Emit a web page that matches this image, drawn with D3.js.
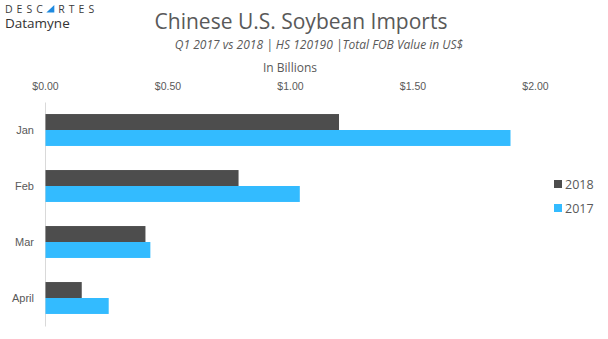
<!DOCTYPE html>
<html>
<head>
<meta charset="utf-8">
<script src="https://cdn.jsdelivr.net/npm/d3@7"></script>
<style>
  html, body { margin: 0; padding: 0; background: #fff; }
  svg { display: block; font-family: "Open Sans", "Noto Sans", sans-serif; }
</style>
</head>
<body>
<svg id="chart" width="608" height="339"></svg>
<script>
// Monthly FOB value of Chinese imports of U.S. soybeans, billions of US$
const months = ["Jan", "Feb", "Mar", "April"];
const seriesNames = ["2018", "2017"];
const values2018 = [1.20, 0.79, 0.41, 0.15];
const values2017 = [1.90, 1.04, 0.43, 0.26];
const tickValues = [0, 0.5, 1, 1.5, 2];
const seriesColors = ["#4d4d4d", "#33bbff"];

const svg = d3.select("#chart");
const textColor = "#595959";

// Brand mark: spaced capitals with a blue wedge standing in for the A
const logo = svg.append("g").attr("transform", "translate(5,12.5)");
const brandLeft = logo.append("text")
  .attr("x", 0).attr("y", 0)
  .attr("font-size", 10.5).attr("font-weight", 500)
  .attr("fill", "#3a3a3a").attr("letter-spacing", 4)
  .text("DESC");
const bw = brandLeft.node().getComputedTextLength();
logo.append("path")
  .attr("d", `M${bw - 0.5},0 L${bw + 7.5},-7.6 L${bw + 7.5},0 Z`)
  .attr("fill", "#1f8ae0");
logo.append("text")
  .attr("x", bw + 11.5).attr("y", 0)
  .attr("font-size", 10.5).attr("font-weight", 500)
  .attr("fill", "#3a3a3a").attr("letter-spacing", 4)
  .text("RTES");
logo.append("text")
  .attr("x", 0).attr("y", 15)
  .attr("font-size", 13.5)
  .attr("fill", "#333")
  .text("Datamyne");

// Titles
svg.append("text")
  .attr("x", 301).attr("y", 29)
  .attr("text-anchor", "middle")
  .attr("font-size", 21)
  .attr("fill", textColor)
  .text("Chinese U.S. Soybean Imports");
svg.append("text")
  .attr("x", 319).attr("y", 49)
  .attr("text-anchor", "middle")
  .attr("font-size", 12)
  .attr("font-style", "italic")
  .attr("fill", textColor)
  .text("Q1 2017  vs 2018 | HS 120190 |Total FOB Value in US$");

// Scales
const x = d3.scaleLinear().domain([0, 2]).range([45, 535]);
const y = d3.scaleBand().domain(months).range([102, 326])
  .paddingInner(0.43).paddingOuter(0.215);
const ySub = d3.scaleBand().domain(seriesNames).range([0, y.bandwidth()]);

// Axis title
svg.append("text")
  .attr("x", x(1)).attr("y", 72)
  .attr("text-anchor", "middle")
  .attr("font-size", 12)
  .attr("fill", textColor)
  .text("In Billions");

// Top value axis (labels only)
const xAxis = svg.append("g")
  .attr("transform", "translate(0,90)")
  .call(d3.axisTop(x).tickValues(tickValues).tickSize(0).tickPadding(0)
    .tickFormat(d => "$" + d3.format(".2f")(d)));
xAxis.select(".domain").remove();
xAxis.selectAll("text")
  .attr("font-family", "inherit")
  .attr("font-size", 10.5)
  .attr("fill", textColor);

// Category axis
const yAxis = svg.append("g")
  .attr("transform", `translate(${x(0)},0)`)
  .call(d3.axisLeft(y).tickSize(0).tickPadding(11));
yAxis.select(".domain").attr("stroke", "#d9d9d9").attr("stroke-width", 1);
yAxis.selectAll("text")
  .attr("font-family", "inherit")
  .attr("font-size", 11)
  .attr("fill", textColor);

// Bars
const rows = months.map((m, i) => ({ month: m, vals: [values2018[i], values2017[i]] }));
const groups = svg.append("g").selectAll("g").data(rows).join("g")
  .attr("transform", d => `translate(0,${y(d.month)})`);
groups.selectAll("rect")
  .data(d => d.vals.map((v, j) => ({ series: seriesNames[j], value: v, color: seriesColors[j] })))
  .join("rect")
  .attr("x", x(0) + 0.5)
  .attr("y", d => ySub(d.series))
  .attr("width", d => x(d.value) - x(0) - 0.5)
  .attr("height", ySub.bandwidth())
  .attr("fill", d => d.color);

// Legend
const legend = svg.append("g").selectAll("g").data(seriesNames).join("g")
  .attr("transform", (d, i) => `translate(554,${184 + i * 24})`);
legend.append("rect")
  .attr("x", 0).attr("y", -4).attr("width", 8).attr("height", 8)
  .attr("fill", (d, i) => seriesColors[i]);
legend.append("text")
  .attr("x", 11).attr("y", 0).attr("dy", "0.36em")
  .attr("font-size", 12.5)
  .attr("fill", textColor)
  .text(d => d);
</script>
</body>
</html>
